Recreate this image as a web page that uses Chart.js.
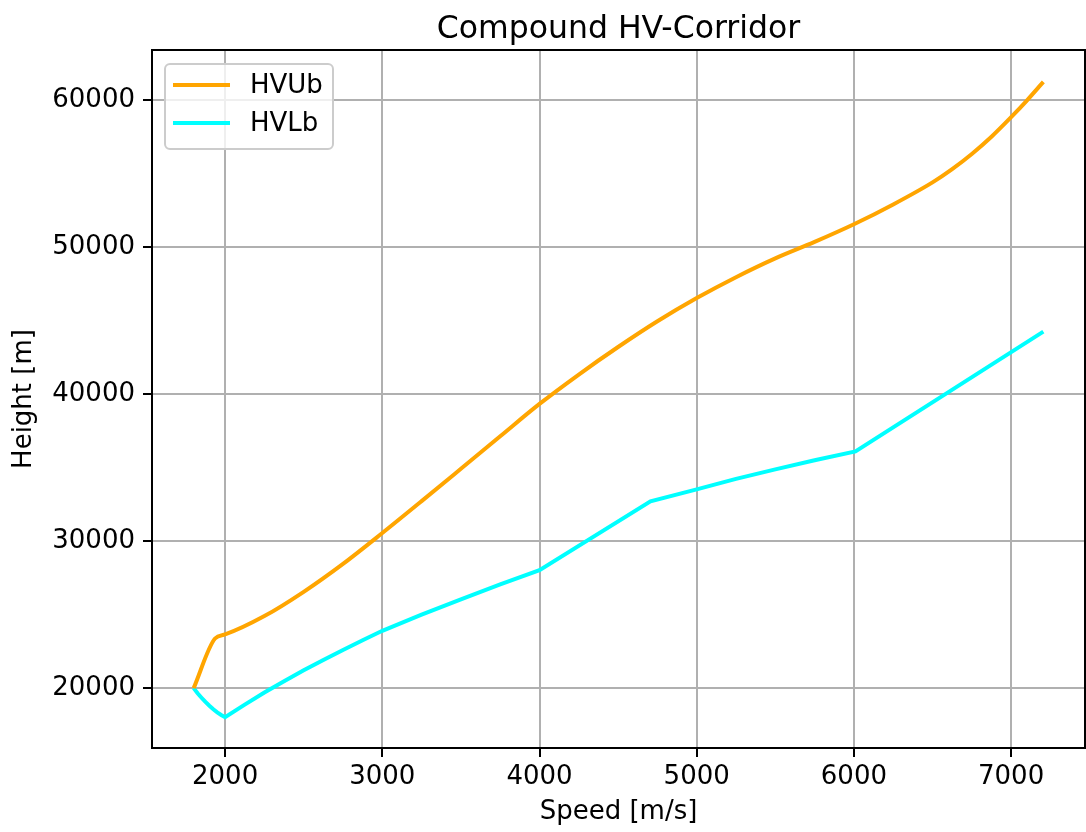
<!DOCTYPE html>
<html>
<head>
<meta charset="utf-8">
<script src="https://cdn.jsdelivr.net/npm/chart.js@4"></script>
<style>
  body { margin: 0; background: #fff; }
  #wrap { width: 1086px; height: 832px; }
</style>
</head>
<body>
<div id="wrap"><canvas id="chart"></canvas></div>
<script>
//..values
const speedUb = [1800, 1936, 2000, 2250, 2500, 2750, 3000, 3250, 3500, 3750, 4000, 4250, 4500, 4750, 5000, 5250, 5500, 5750, 6000, 6250, 6500, 6625, 6750, 6875, 7000, 7100, 7205];
const heightUb = [20000, 23380, 23650, 24900, 26550, 28450, 30550, 32720, 34920, 37130, 39330, 41330, 43200, 44950, 46530, 47950, 49230, 50350, 51550, 52900, 54400, 55300, 56330, 57500, 58830, 59960, 61230];

const speedLb = [1800, 1825, 1850, 1875, 1900, 1925, 1950, 1975, 2000, 2125, 2250, 2375, 2500, 2625, 2750, 2875, 3000, 3250, 3500, 3750, 4000, 4706, 5000, 5250, 5500, 5750, 6010, 7205];
const heightLb = [20000, 19650, 19350, 19060, 18800, 18560, 18350, 18180, 18030, 18880, 19700, 20470, 21210, 21920, 22600, 23260, 23900, 25000, 26040, 27050, 28020, 32700, 33520, 34230, 34880, 35500, 36100, 44250];

const xTicks = [2000, 3000, 4000, 5000, 6000, 7000];
const yTicks = [20000, 30000, 40000, 50000, 60000];

const seriesNames = ['HVUb', 'HVLb'];
const seriesColors = ['#ffa500', '#00ffff'];

const FONT = 'DejaVu Sans';
Chart.defaults.font.family = FONT;
Chart.defaults.color = '#000';

const toPoints = (xs, ys) => xs.map((x, i) => ({ x: x, y: ys[i] }));

//..box round the plot area, like matplotlib spines
const framePlugin = {
    id: 'frame',
    afterDraw(chart) {
        const { ctx, chartArea: a } = chart;
        ctx.save();
        ctx.strokeStyle = '#000';
        ctx.lineWidth = 2;
        ctx.strokeRect(a.left, a.top, a.right - a.left, a.bottom - a.top);
        ctx.restore();
    }
};

//..legend drawn inside the plot, upper left
const innerLegend = {
    id: 'innerLegend',
    afterDraw(chart) {
        const { ctx, chartArea: a } = chart;
        const x0 = a.left + 13, y0 = a.top + 14, w = 168, h = 85, r = 5;
        ctx.save();
        ctx.beginPath();
        ctx.roundRect(x0, y0, w, h, r);
        ctx.fillStyle = 'rgba(255,255,255,0.8)';
        ctx.fill();
        ctx.strokeStyle = '#cccccc';
        ctx.lineWidth = 2;
        ctx.stroke();
        ctx.font = '26px "' + FONT + '"';
        ctx.textBaseline = 'middle';
        chart.data.datasets.forEach((ds, i) => {
            const y = y0 + 21 + i * 38;
            ctx.strokeStyle = ds.borderColor;
            ctx.lineWidth = 4;
            ctx.beginPath();
            ctx.moveTo(x0 + 8, y);
            ctx.lineTo(x0 + 65, y);
            ctx.stroke();
            ctx.fillStyle = '#000';
            ctx.fillText(ds.label, x0 + 85, y + 1);
        });
        ctx.restore();
    }
};

const gridStyle = { color: '#b0b0b0', lineWidth: 2, tickColor: '#000', tickLength: 9, tickWidth: 2 };
const plainLabel = v => String(v);

new Chart(document.getElementById('chart'), {
    type: 'line',
    data: {
        datasets: [
            {
                label: seriesNames[0],
                data: toPoints(speedUb, heightUb),
                borderColor: seriesColors[0],
                backgroundColor: seriesColors[0],
                borderWidth: 4,
                pointRadius: 0,
                cubicInterpolationMode: 'monotone',
                fill: false
            },
            {
                label: seriesNames[1],
                data: toPoints(speedLb, heightLb),
                borderColor: seriesColors[1],
                backgroundColor: seriesColors[1],
                borderWidth: 4,
                pointRadius: 0,
                tension: 0,
                fill: false
            }
        ]
    },
    options: {
        responsive: true,
        maintainAspectRatio: false,
        animation: false,
        layout: { padding: { left: 0, right: 1, top: 0, bottom: 0 } },
        plugins: {
            legend: { display: false },
            tooltip: { enabled: false },
            title: {
                display: true,
                fullSize: false,
                text: 'Compound HV-Corridor',
                color: '#000',
                font: { size: 31.5, weight: 'normal', lineHeight: 1.2 },
                padding: { top: 11, bottom: 1.2 }
            }
        },
        scales: {
            x: {
                type: 'linear',
                min: 1535,
                max: 7470,
                afterBuildTicks: s => { s.ticks = xTicks.map(v => ({ value: v })); },
                afterFit: s => { s.height = 84; },
                ticks: { callback: plainLabel, autoSkip: false, font: { size: 26 }, color: '#000', padding: 5, maxRotation: 0 },
                grid: gridStyle,
                border: { display: false },
                title: { display: true, text: 'Speed [m/s]', color: '#000', font: { size: 26 }, padding: { top: 0, bottom: 4 } }
            },
            y: {
                type: 'linear',
                min: 15930,
                max: 63400,
                afterBuildTicks: s => { s.ticks = yTicks.map(v => ({ value: v })); },
                afterFit: s => { s.width = 152; },
                ticks: { callback: plainLabel, autoSkip: false, font: { size: 26 }, color: '#000', padding: 8 },
                grid: gridStyle,
                border: { display: false },
                title: { display: true, text: 'Height [m]', color: '#000', font: { size: 26 }, padding: { top: 9, bottom: 0 } }
            }
        }
    },
    plugins: [framePlugin, innerLegend]
});
</script>
</body>
</html>
